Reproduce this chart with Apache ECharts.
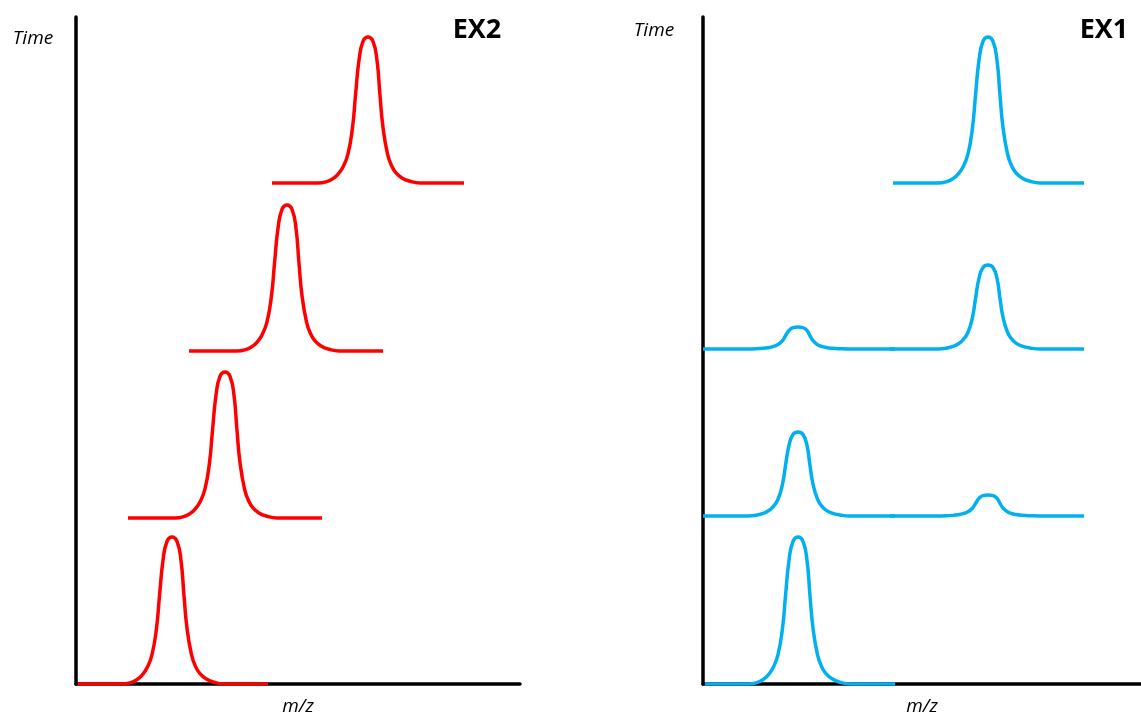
<!DOCTYPE html>
<html>
<head>
<meta charset="utf-8">
<script src="https://cdn.jsdelivr.net/npm/echarts@6/dist/echarts.min.js"></script>
<style>
html,body{margin:0;padding:0;background:#fff;}
#chart{width:1141px;height:715px;}
</style>
</head>
<body>
<div id="chart"></div>
<script>
// Shape of one peak: [offset along m/z from apex, fraction of peak height]
const peakProfile = [
  [-50, 0], [-42, 0.008], [-35, 0.03], [-30, 0.06], [-25, 0.11], [-20, 0.2], [-15.5, 0.38],
  [-12.5, 0.6], [-9, 0.84], [-5, 0.97], [0, 1], [5, 0.97], [9, 0.84], [12, 0.6],
  [15, 0.38], [19.5, 0.2], [23.5, 0.12], [28, 0.07], [34, 0.035], [42, 0.012], [52, 0]
];

// EX2 (left panel) — one spectrum per time level
const ex2Levels  = [0, 166, 333, 501];
const ex2Starts  = [2, 52, 113, 196];
const ex2Ends    = [192, 246, 307, 388];
const ex2Centers = [96, 149, 211, 292];
const ex2Heights = [147, 146, 146, 146];

// EX1 (right panel) — segments: level, start, end, peak centre, peak height
const ex1Levels  = [0, 168, 168, 335, 335, 501];
const ex1Starts  = [2, 0, 187, 0, 187, 190];
const ex1Ends    = [192, 192, 381, 192, 381, 381];
const ex1Centers = [95, 95, 285, 95, 285, 285];
const ex1Heights = [147, 84, 21, 22, 84, 146];

const panelLabels = ['EX2', 'EX1'];
const yName = 'Time';
const xName = 'm/z';

function buildCurve(level, start, end, center, height) {
  const pts = [[start, level]];
  peakProfile.forEach(function (p) {
    pts.push([center + p[0], level + p[1] * height]);
  });
  pts.push([end, level]);
  return pts;
}

const series = [];
ex2Levels.forEach(function (lv, i) {
  series.push({
    type: 'line', xAxisIndex: 0, yAxisIndex: 0, showSymbol: false, smooth: 0.5,
    data: buildCurve(lv, ex2Starts[i], ex2Ends[i], ex2Centers[i], ex2Heights[i]),
    lineStyle: { color: '#FF0000', width: 3.5 }, silent: true
  });
});
ex1Levels.forEach(function (lv, i) {
  series.push({
    type: 'line', xAxisIndex: 1, yAxisIndex: 1, showSymbol: false, smooth: 0.5,
    data: buildCurve(lv, ex1Starts[i], ex1Ends[i], ex1Centers[i], ex1Heights[i]),
    lineStyle: { color: '#00B0F0', width: 3.5 }, silent: true
  });
});

function axisCommon(extra) {
  return Object.assign({
    type: 'value',
    axisLine: { show: true, onZero: false, lineStyle: { color: '#000', width: 3.5 } },
    axisTick: { show: false },
    axisLabel: { show: false },
    splitLine: { show: false }
  }, extra);
}

const nameFont = { fontFamily: 'Open Sans', fontStyle: 'italic', fontSize: 19, color: '#000' };

const option = {
  animation: false,
  backgroundColor: '#fff',
  grid: [
    { left: 76, top: 17, width: 444, height: 667, containLabel: false, outerBoundsMode: 'none' },
    { left: 703, top: 17, width: 438, height: 667, containLabel: false, outerBoundsMode: 'none' }
  ],
  xAxis: [
    axisCommon({ gridIndex: 0, min: 0, max: 444, name: xName, nameLocation: 'middle', nameGap: 13, nameTextStyle: nameFont }),
    axisCommon({ gridIndex: 1, min: 0, max: 438, name: xName, nameLocation: 'middle', nameGap: 13, nameTextStyle: nameFont })
  ],
  yAxis: [
    axisCommon({ gridIndex: 0, min: 0, max: 667 }),
    axisCommon({ gridIndex: 1, min: 0, max: 667 })
  ],
  graphic: [
    { type: 'text', x: 33, y: 39, style: { text: yName, textAlign: 'center', textVerticalAlign: 'middle', font: 'italic 19px "Open Sans"', fill: '#000' } },
    { type: 'text', x: 654, y: 31, style: { text: yName, textAlign: 'center', textVerticalAlign: 'middle', font: 'italic 19px "Open Sans"', fill: '#000' } },
    { type: 'text', x: 477, y: 30, style: { text: panelLabels[0], textAlign: 'center', textVerticalAlign: 'middle', font: 'bold 27px "Open Sans"', fill: '#000' } },
    { type: 'text', x: 1104, y: 30, style: { text: panelLabels[1], textAlign: 'center', textVerticalAlign: 'middle', font: 'bold 27px "Open Sans"', fill: '#000' } }
  ],
  series: series
};

const chart = echarts.init(document.getElementById('chart'), null, { renderer: 'canvas' });
chart.setOption(option);
</script>
</body>
</html>
